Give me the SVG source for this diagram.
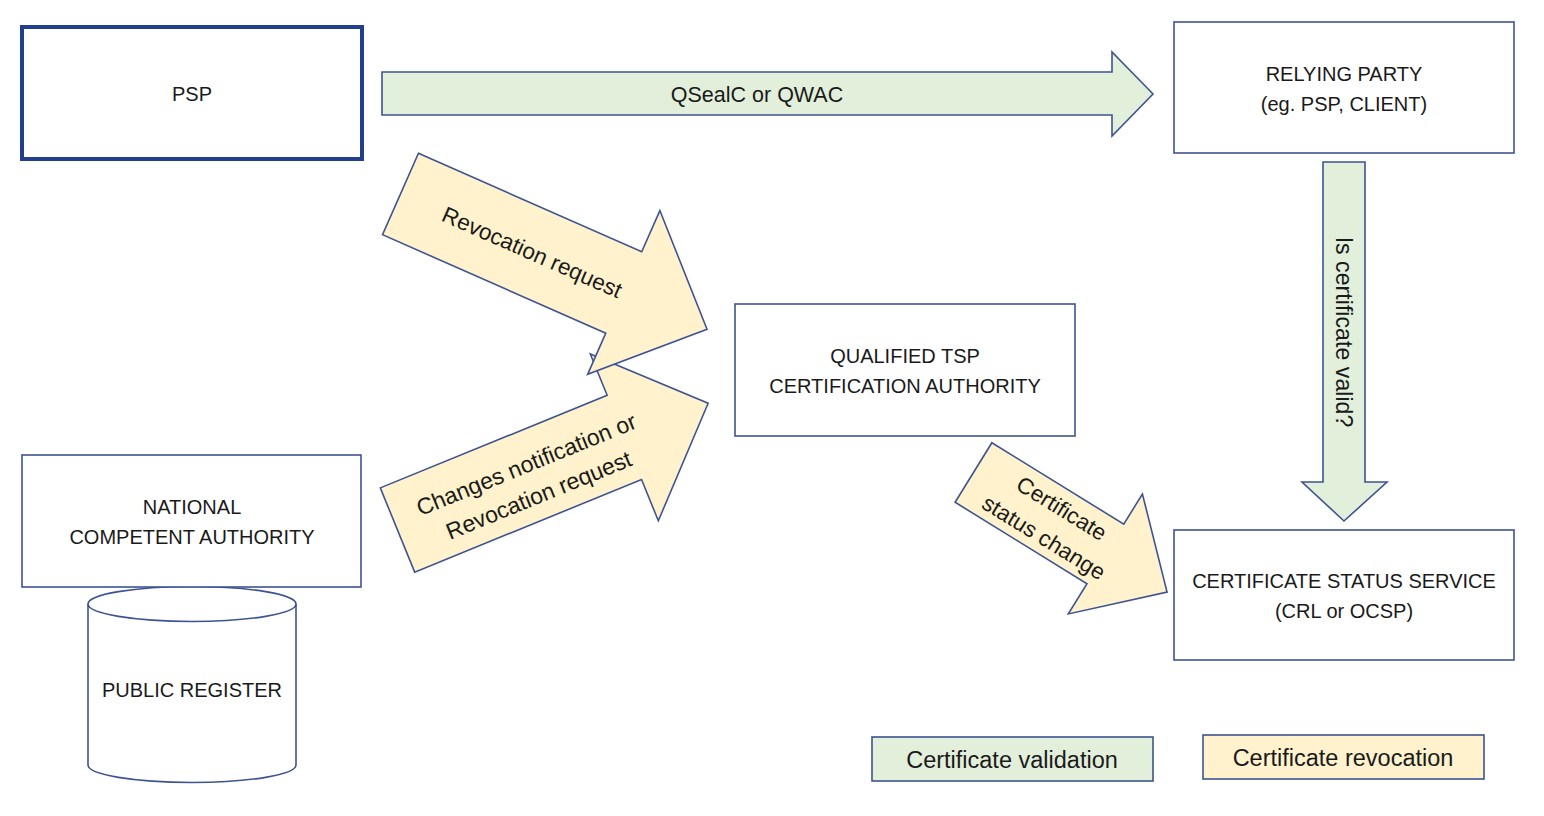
<svg xmlns="http://www.w3.org/2000/svg" width="1544" height="816" viewBox="0 0 1544 816">
<style>
text{font-family:"Liberation Sans",Arial,sans-serif;fill:#1a1a1a;text-anchor:middle}
.box{fill:#fff;stroke:#3e5393;stroke-width:1.6}
.thick{fill:#fff;stroke:#213f8b;stroke-width:4}
.g{fill:#e2efda;stroke:#3e5393;stroke-width:1.6;stroke-linejoin:miter}
.y{fill:#fff2cc;stroke:#3e5393;stroke-width:1.6;stroke-linejoin:miter}
.t19{font-size:20px}
.t22{font-size:22.5px}
.t23{font-size:23.5px}
</style>
<rect width="1544" height="816" fill="#fff"/>
<g id="connectors">
  <g id="arrow-qseal">
    <polygon class="g" points="382,72 1112,72 1112,52 1153,94 1112,136 1112,115 382,115"/>
    <text x="757" y="102" style="font-size:21.5px">QSealC or QWAC</text>
  </g>
  <g id="arrow-valid">
    <polygon class="g" points="1323,162 1365,162 1365,482 1387,482 1344,521 1302,482 1323,482"/>
    <text style="font-size:23.2px" transform="translate(1344,332) rotate(90)" x="0" y="8">Is certificate valid?</text>
  </g>
  <g id="arrow-changes" transform="translate(397.5,530) rotate(-22.2)">
    <polygon class="y" points="0,-45.5 245,-45.5 245,-90 335.5,0 245,90 245,45.5 0,45.5"/>
    <text style="font-size:23px" x="144" y="-4">Changes notification or</text>
    <text style="font-size:23px" x="144" y="29">Revocation request</text>
  </g>
  <g id="arrow-revocation" transform="translate(400.5,194) rotate(23.8)">
    <polygon class="y" points="0,-44.5 244,-44.5 244,-89.5 335,0 244,89.5 244,44.5 0,44.5"/>
    <text class="t22" x="144" y="8">Revocation request</text>
  </g>
  <g id="arrow-status" transform="translate(973.5,472.5) rotate(31.7)">
    <polygon class="y" points="0,-35 155,-35 155,-70.5 227.5,0 155,70.5 155,35 0,35"/>
    <text class="t22" x="94" y="-8">Certificate</text>
    <text class="t22" x="94" y="26">status change</text>
  </g>
</g>
<g id="psp">
  <rect class="thick" x="22" y="27" width="340" height="132"/>
  <text class="t19" x="192" y="101">PSP</text>
</g>
<g id="relying-party">
  <rect class="box" x="1174" y="22" width="340" height="131"/>
  <text class="t19" x="1344" y="81">RELYING PARTY</text>
  <text class="t19" x="1344" y="111">(eg. PSP, CLIENT)</text>
</g>
<g id="qualified-tsp">
  <rect class="box" x="735" y="304" width="340" height="132"/>
  <text class="t19" x="905" y="363">QUALIFIED TSP</text>
  <text class="t19" x="905" y="393">CERTIFICATION AUTHORITY</text>
</g>
<g id="public-register">
  <path class="box" d="M88,604 L88,765 A104,17.5 0 0 0 296,765 L296,604 A104,17.5 0 0 0 88,604 Z"/>
  <path fill="none" stroke="#3e5393" stroke-width="1.6" d="M88,604 A104,17.5 0 0 0 296,604"/>
  <text class="t19" x="192" y="697">PUBLIC REGISTER</text>
</g>
<g id="national-authority">
  <rect class="box" x="22" y="455" width="339" height="132"/>
  <text class="t19" x="192" y="514">NATIONAL</text>
  <text class="t19" x="192" y="544">COMPETENT AUTHORITY</text>
</g>
<g id="status-service">
  <rect class="box" x="1174" y="530" width="340" height="130"/>
  <text class="t19" x="1344" y="588">CERTIFICATE STATUS SERVICE</text>
  <text class="t19" x="1344" y="618">(CRL or OCSP)</text>
</g>
<g id="legend-validation">
  <rect class="g" x="872" y="737" width="281" height="44"/>
  <text class="t23" x="1012" y="768">Certificate validation</text>
</g>
<g id="legend-revocation">
  <rect class="y" x="1203" y="735" width="281" height="44"/>
  <text class="t23" x="1343" y="766">Certificate revocation</text>
</g>
</svg>
